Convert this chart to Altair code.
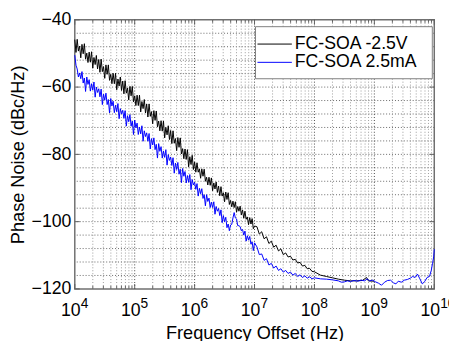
import altair as alt
import pandas as pd

# ---------------- data ----------------
series_names = ["FC-SOA -2.5V", "FC-SOA 2.5mA"]
series_colors = ["#000000", "#0000ff"]

# log10(frequency) grid of the noisy low-offset part (shared by both traces)
common_exp = [
    4.00, 4.02, 4.04, 4.06, 4.08, 4.10, 4.12, 4.14, 4.16, 4.18,
    4.20, 4.22, 4.24, 4.26, 4.28, 4.30, 4.32, 4.34, 4.36, 4.38,
    4.40, 4.42, 4.44, 4.46, 4.48, 4.50, 4.52, 4.54, 4.56, 4.58,
    4.60, 4.62, 4.64, 4.66, 4.68, 4.70, 4.72, 4.74, 4.76, 4.78,
    4.80, 4.82, 4.84, 4.86, 4.88, 4.90, 4.92, 4.94, 4.96, 4.98,
    5.00, 5.02, 5.04, 5.06, 5.08, 5.10, 5.12, 5.14, 5.16, 5.18,
    5.20, 5.22, 5.24, 5.26, 5.28, 5.30, 5.32, 5.34, 5.36, 5.38,
    5.40, 5.42, 5.44, 5.46, 5.48, 5.50, 5.52, 5.54, 5.56, 5.58,
    5.60, 5.62, 5.64, 5.66, 5.68, 5.70, 5.72, 5.74, 5.76, 5.78,
    5.80, 5.82, 5.84, 5.86, 5.88, 5.90, 5.92, 5.94, 5.96, 5.98,
    6.00, 6.02, 6.04, 6.06, 6.08, 6.10, 6.12, 6.14, 6.16, 6.18,
    6.20, 6.22, 6.24, 6.26, 6.28, 6.30, 6.32, 6.34, 6.36, 6.38,
    6.40, 6.42, 6.44, 6.46, 6.48, 6.50, 6.52, 6.54, 6.56, 6.58,
    6.60, 6.62, 6.64, 6.66, 6.68, 6.70, 6.72, 6.74, 6.76, 6.78,
    6.80, 6.82, 6.84, 6.86, 6.88, 6.90, 6.92, 6.94, 6.96, 6.98,
    7.00,
]

black_tail_exp = [
    7.04, 7.08, 7.12, 7.16, 7.20, 7.24, 7.28, 7.32, 7.36, 7.40,
    7.44, 7.48, 7.52, 7.56, 7.60, 7.64, 7.68, 7.72, 7.76, 7.80,
    7.84, 7.88, 7.92, 7.96, 8.00,
    8.10, 8.20, 8.30, 8.40, 8.50, 8.60, 8.70, 8.80, 8.87, 8.90, 9.00,
]

blue_tail_exp = [
    7.04, 7.08, 7.12, 7.16, 7.20, 7.24, 7.28, 7.32, 7.36, 7.40,
    7.44, 7.48, 7.52, 7.56, 7.60, 7.64, 7.68, 7.72, 7.76, 7.80,
    7.84, 7.88, 7.92, 7.96, 8.00,
    8.10, 8.20, 8.30, 8.40, 8.45, 8.50, 8.55, 8.60, 8.66, 8.72,
    8.78, 8.84, 8.88, 8.92, 8.97, 9.02, 9.07, 9.12, 9.17, 9.22,
    9.27, 9.32, 9.36, 9.40, 9.45, 9.50, 9.55, 9.60, 9.64, 9.68,
    9.72, 9.76, 9.80, 9.84, 9.88, 9.92, 9.95, 9.97, 9.99, 10.00,
]

black_db = [
    -45.9, -49.7, -45.8, -49.3, -47.8, -51.3, -47.3, -50.1, -47.1, -51.7,
    -49.9, -52.7, -49.6, -52.6, -49.5, -54.4, -51.2, -53.3, -50.6, -54.6,
    -51.8, -55.6, -51.7, -55.4, -53.9, -57.4, -53.4, -56.2, -53.4, -58.0,
    -56.2, -59.0, -55.9, -59.0, -55.9, -60.8, -57.6, -59.7, -57.0, -61.0,
    -58.2, -62.0, -58.1, -61.8, -60.3, -63.8, -59.8, -62.6, -59.8, -64.4,
    -62.6, -65.5, -62.4, -65.5, -62.4, -67.4, -64.3, -66.4, -63.7, -67.7,
    -65.0, -68.9, -65.0, -68.7, -67.3, -70.9, -67.0, -69.9, -67.1, -71.8,
    -70.1, -73.0, -70.0, -73.1, -70.1, -75.1, -72.0, -74.2, -71.5, -75.6,
    -72.9, -76.8, -73.0, -76.7, -75.3, -78.9, -75.0, -77.9, -75.1, -79.9,
    -78.3, -81.3, -78.4, -81.5, -78.6, -83.7, -80.7, -83.0, -80.3, -84.5,
    -82.3, -85.3, -82.5, -85.3, -84.3, -87.1, -84.3, -86.5, -84.4, -88.0,
    -86.8, -89.1, -86.8, -89.2, -87.0, -90.8, -88.5, -90.3, -88.2, -91.3,
    -89.4, -92.3, -89.6, -92.4, -91.4, -94.1, -91.2, -93.4, -91.4, -94.9,
    -93.7, -95.6, -93.9, -95.8, -94.1, -97.2, -95.5, -96.9, -95.4, -98.0,
    -96.5, -99.0, -96.9, -99.3, -98.6, -100.9, -98.8, -100.7, -99.1, -102.1,
    -101.3,
    -101.5, -103.7, -103.0, -105.1, -104.5, -106.5, -105.8, -107.6, -107.0, -108.7,
    -108.1, -109.8, -109.3, -110.5, -110.3, -111.4, -111.2, -112.3, -112.1, -113.2,
    -113.0, -114.0, -113.9, -114.8, -114.9,
    -115.9, -116.3, -116.7, -117.1, -117.4, -117.6, -117.6, -117.5, -116.6, -117.6, -117.7,
]

blue_db = [
    -50.5, -53.5, -54.6, -57.0, -55.8, -57.5, -55.4, -58.8, -57.3, -61.3,
    -57.0, -59.2, -57.8, -61.2, -59.0, -60.9, -58.5, -63.0, -60.0, -61.6,
    -60.5, -62.9, -60.6, -65.2, -62.1, -63.9, -61.8, -65.2, -63.7, -67.7,
    -63.4, -65.6, -64.2, -67.6, -65.4, -67.3, -64.9, -69.4, -66.4, -68.0,
    -66.9, -69.3, -67.0, -71.6, -68.5, -70.3, -68.2, -71.6, -70.1, -74.1,
    -69.8, -72.1, -70.7, -74.1, -71.9, -73.9, -71.5, -76.1, -73.0, -74.7,
    -73.6, -76.1, -73.8, -78.4, -75.3, -77.2, -75.1, -78.6, -77.0, -81.1,
    -76.8, -79.1, -77.7, -81.1, -79.0, -80.9, -78.6, -83.2, -80.1, -81.8,
    -80.8, -83.3, -81.0, -85.6, -82.6, -84.5, -82.4, -85.9, -84.4, -88.4,
    -84.2, -86.5, -85.1, -88.5, -86.3, -88.3, -86.0, -90.5, -87.5, -89.1,
    -88.3, -90.4, -88.7, -92.4, -90.1, -91.7, -90.2, -93.1, -92.0, -95.3,
    -92.0, -94.0, -93.0, -95.8, -94.2, -95.8, -94.1, -97.8, -95.5, -96.9,
    -96.1, -98.2, -96.5, -100.3, -98.2, -100.0, -98.7, -101.8, -100.7, -102.7,
    -101.0, -100.8, -98.9, -97.3, -98.9, -99.2, -101.2, -101.2, -101.5, -102.7,
    -102.3, -104.0, -102.8, -105.8, -104.2, -105.5, -104.4, -106.7, -106.0, -108.6,
    -106.3,
    -107.5, -109.8, -109.6, -111.5, -111.0, -112.9, -112.4, -113.8, -113.2, -114.5,
    -114.0, -115.0, -114.5, -115.4, -115.0, -115.9, -115.4, -116.3, -115.8, -116.6,
    -116.1, -116.8, -116.4, -117.0, -116.7,
    -117.0, -117.1, -117.3, -117.6, -118.0, -117.9, -117.6, -117.8, -117.5, -117.7,
    -117.4, -117.6, -117.0, -117.6, -117.4, -117.9, -118.3, -118.9, -118.0, -117.5,
    -117.4, -118.2, -118.5, -117.7, -118.0, -117.4, -117.2, -116.8, -116.3, -116.6,
    -115.6, -117.0, -118.5, -117.8, -116.6, -116.3, -114.5, -112.5, -110.5, -108.2,
]

x_decades = [4, 5, 6, 7, 8, 9, 10]
minor_mult = [2, 3, 4, 5, 6, 7, 8, 9]
y_major = [-120, -100, -80, -60, -40]
y_grid = [-116, -112, -108, -104, -100, -96, -92, -88, -84, -80,
          -76, -72, -68, -64, -60, -56, -52, -48, -44]

# ---------------- chart ----------------
W, H = 366, 274
FONT = "Liberation Sans"

xs = alt.Scale(type="log", domain=[1e4, 1e10], nice=False)
ys = alt.Scale(domain=[-120, -40], nice=False)

x_axis = alt.Axis(
    values=[10 ** d for d in x_decades], labels=False, ticks=False, domain=False,
    grid=False, title="Frequency Offset (Hz)", titleFont=FONT, titleFontSize=18.5,
    titleFontWeight="normal", titleColor="black", titlePadding=35)
y_axis = alt.Axis(
    values=y_major, ticks=False, tickSize=0, domain=False, grid=False,
    labelFont=FONT, labelFontSize=18, labelColor="black", labelPadding=4,
    title="Phase Noise (dBc/Hz)", titleFont=FONT, titleFontSize=18.5,
    titleFontWeight="normal", titleColor="black", titlePadding=4)


def X():
    return alt.X("f:Q", scale=xs, axis=x_axis, title="Frequency Offset (Hz)")


def Y():
    return alt.Y("pn:Q", scale=ys, axis=y_axis, title="Phase Noise (dBc/Hz)")


black_df = pd.DataFrame({"f": [10 ** e for e in common_exp + black_tail_exp], "pn": black_db})
blue_df = pd.DataFrame({"f": [10 ** e for e in common_exp + blue_tail_exp], "pn": blue_db})

vgrid_rows = []
for d in x_decades[:-1]:
    for m in minor_mult:
        vgrid_rows.append({"f": m * 10 ** d, "kind": "minor"})
for d in x_decades[1:-1]:
    vgrid_rows.append({"f": 10 ** d, "kind": "major"})
vgrid_df = pd.DataFrame(vgrid_rows)
dec_df = pd.DataFrame({"e": x_decades, "f": [10 ** d for d in x_decades]})
minor_df = vgrid_df[vgrid_df["kind"] == "minor"]

hgrid = alt.Chart(pd.DataFrame({"pn": y_grid})).mark_rule(
    color="#666666", strokeDash=[1, 2], strokeWidth=1
).encode(y=Y())

vgrid = alt.Chart(vgrid_df).mark_rule(strokeDash=[1, 2], strokeWidth=1).encode(
    x=X(),
    color=alt.Color("kind:N", scale=alt.Scale(domain=["major", "minor"],
                                               range=["#444444", "#9a9a9a"]), legend=None),
)

black_line = alt.Chart(black_df).mark_line(color=series_colors[0], strokeWidth=1).encode(
    x=X(), y=Y())
blue_line = alt.Chart(blue_df).mark_line(color=series_colors[1], strokeWidth=1).encode(
    x=X(), y=Y())

# ticks (inside, MATLAB style)
TC = "#606060"
xt_major_b = alt.Chart(dec_df).mark_rule(color=TC).encode(x=X(), y=alt.value(H), y2=alt.value(H - 5))
xt_major_t = alt.Chart(dec_df).mark_rule(color=TC).encode(x=X(), y=alt.value(0), y2=alt.value(5))
xt_minor_b = alt.Chart(minor_df).mark_rule(color=TC).encode(x=X(), y=alt.value(H), y2=alt.value(H - 3))
xt_minor_t = alt.Chart(minor_df).mark_rule(color=TC).encode(x=X(), y=alt.value(0), y2=alt.value(3))
ymaj_df = pd.DataFrame({"pn": y_major})
yt_l = alt.Chart(ymaj_df).mark_rule(color=TC).encode(y=Y(), x=alt.value(0), x2=alt.value(5))
yt_r = alt.Chart(ymaj_df).mark_rule(color=TC).encode(y=Y(), x=alt.value(W), x2=alt.value(W - 5))

# x tick labels 10^n
x_base = alt.Chart(dec_df).transform_calculate(base="'10'").mark_text(
    font=FONT, fontSize=18, align="center", baseline="alphabetic", dx=-4, color="black"
).encode(x=X(), y=alt.value(H + 28), text="base:N")
x_exp = alt.Chart(dec_df).mark_text(
    font=FONT, fontSize=14, align="left", baseline="alphabetic", dx=6, color="black"
).encode(x=X(), y=alt.value(H + 19.7), text="e:N")

# legend
leg_df = pd.DataFrame({"name": series_names, "row": [0, 1]})
leg_box = alt.Chart(pd.DataFrame({"a": [0]})).mark_rect(
    fill="white", stroke="#808080", strokeWidth=1
).encode(x=alt.value(184), x2=alt.value(364), y=alt.value(7), y2=alt.value(60))
leg_layers = []
for i, c in enumerate(series_colors):
    sub = alt.Chart(leg_df).transform_filter(f"datum.row == {i}")
    leg_layers.append(sub.mark_rule(color=c, strokeWidth=1).encode(
        x=alt.value(186), x2=alt.value(221), y=alt.value(24.7 + 18.6 * i)))
    leg_layers.append(sub.mark_text(font=FONT, fontSize=18, align="left",
                                    baseline="middle", color="black").encode(
        x=alt.value(224), y=alt.value(24.7 + 18.6 * i), text="name:N"))

chart = alt.layer(
    hgrid, vgrid, black_line, blue_line,
    xt_major_b, xt_major_t, xt_minor_b, xt_minor_t, yt_l, yt_r,
    leg_box, *leg_layers, x_base, x_exp,
).properties(
    width=W, height=H,
    autosize=alt.AutoSizeParams(type="none"),
    padding={"left": 68, "top": 9, "right": 15, "bottom": 50},
).configure_view(stroke="#707070", strokeWidth=1.5)

chart.save("out.html", embed_options={"renderer": "svg", "actions": False})
